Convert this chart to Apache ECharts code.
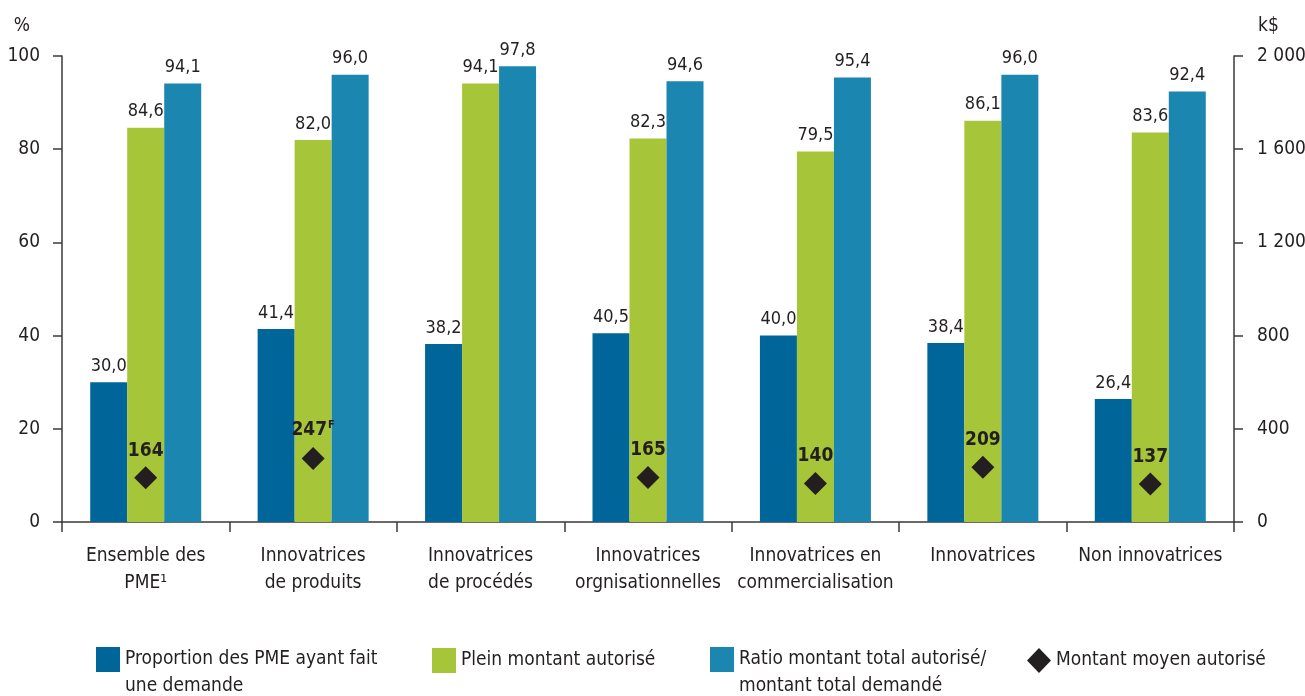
<!DOCTYPE html>
<html>
<head>
<meta charset="utf-8">
<script src="https://cdn.jsdelivr.net/npm/echarts@6/dist/echarts.min.js"></script>
<style>
  html, body { margin: 0; padding: 0; background: #fff; }
  #chartPme { width: 1305px; height: 696px; }
</style>
</head>
<body>
<div id="chartPme"></div>
<script>
var categories = ['Ensemble des\nPME¹', 'Innovatrices\nde produits', 'Innovatrices\nde procédés',
  'Innovatrices\norgnisationnelles', 'Innovatrices en\ncommercialisation', 'Innovatrices', 'Non innovatrices'];
var proportionDemande = [30.0, 41.4, 38.2, 40.5, 40.0, 38.4, 26.4];
var pleinMontant = [84.6, 82.0, 94.1, 82.3, 79.5, 86.1, 83.6];
var ratioMontant = [94.1, 96.0, 97.8, 94.6, 95.4, 96.0, 92.4];
var montantMoyen = [164, 247, null, 165, 140, 209, 137];
var montantNotes = ['', 'F', '', '', '', '', ''];
var pctTicks = [0, 20, 40, 60, 80, 100];
var kdTicks = [0, 400, 800, 1200, 1600, 2000];

var font = "'Liberation Sans Narrow', 'DejaVu Sans Condensed', sans-serif";
var txt = '#231f20';

function virgule(v) { return v.toFixed(1).replace('.', ','); }
function milliers(v) { return String(v).replace(/\B(?=(\d{3})+(?!\d))/g, ' '); }

var dom = document.getElementById('chartPme');
var myChart = echarts.init(dom);

var barLabel = {
  show: true, position: 'top', distance: 7,
  fontFamily: font, fontSize: 18, color: txt,
  formatter: function (p) { return virgule(p.value); }
};

var legendBase = {
  orient: 'horizontal', itemWidth: 24, itemHeight: 25, top: 647, padding: 0,
  selectedMode: false, icon: 'rect',
  textStyle: { fontFamily: font, fontSize: 19, color: txt, lineHeight: 27 }
};
// leading empty line so the first line of a two-line name sits beside the icon
function firstLineOnIcon(name) { return '\n' + name; }

var option = {
  animation: false,
  grid: { left: 62, right: 71, top: 56, bottom: 174, outerBoundsMode: 'none' },
  legend: [
    Object.assign({}, legendBase, { left: 96, top: 619, data: ['Proportion des PME ayant fait\nune demande'], formatter: firstLineOnIcon }),
    Object.assign({}, legendBase, { left: 432, data: ['Plein montant autorisé'] }),
    Object.assign({}, legendBase, { left: 710, top: 619, data: ['Ratio montant total autorisé/\nmontant total demandé'], formatter: firstLineOnIcon }),
    Object.assign({}, legendBase, { left: 1027, data: [{ name: 'Montant moyen autorisé', icon: 'diamond' }] })
  ],
  xAxis: {
    type: 'category',
    data: categories,
    axisLine: { lineStyle: { color: '#3a3a3a', width: 1.5 } },
    axisTick: { show: true, length: 10, lineStyle: { color: '#3a3a3a', width: 1.5 } },
    axisLabel: { fontFamily: font, fontSize: 19, color: txt, lineHeight: 27, margin: 21, interval: 0 }
  },
  yAxis: [
    {
      type: 'value', min: 0, max: 100, interval: 20, position: 'left',
      name: '%', nameLocation: 'end', nameGap: 20,
      nameTextStyle: { fontFamily: font, fontSize: 19, color: txt, align: 'right', padding: [0, 32, 0, 0] },
      axisLine: { show: true, lineStyle: { color: '#3a3a3a', width: 1.5 } },
      axisTick: { show: true, length: 9, lineStyle: { color: '#3a3a3a', width: 1.5 } },
      axisLabel: { fontFamily: font, fontSize: 19, color: txt, margin: 22,
        formatter: function (v) { return pctTicks.indexOf(v) >= 0 ? String(v) : ''; } },
      splitLine: { show: false }
    },
    {
      type: 'value', min: 0, max: 2000, interval: 400, position: 'right',
      name: 'k$', nameLocation: 'end', nameGap: 20,
      nameTextStyle: { fontFamily: font, fontSize: 19, color: txt, align: 'left', padding: [0, 0, 0, 24] },
      axisLine: { show: true, lineStyle: { color: '#3a3a3a', width: 1.5 } },
      axisTick: { show: true, length: 9, lineStyle: { color: '#3a3a3a', width: 1.5 } },
      axisLabel: { fontFamily: font, fontSize: 19, color: txt, margin: 23,
        formatter: function (v) { return kdTicks.indexOf(v) >= 0 ? milliers(v) : ''; } },
      splitLine: { show: false }
    }
  ],
  series: [
    {
      name: 'Proportion des PME ayant fait\nune demande', type: 'bar', data: proportionDemande,
      barWidth: 37, barGap: '0%', itemStyle: { color: '#006699' }, label: barLabel, z: 2
    },
    {
      name: 'Plein montant autorisé', type: 'bar', data: pleinMontant,
      barWidth: 37, barGap: '0%', itemStyle: { color: '#a7c539' }, label: barLabel, z: 2
    },
    {
      name: 'Ratio montant total autorisé/\nmontant total demandé', type: 'bar', data: ratioMontant,
      barWidth: 37, barGap: '0%', itemStyle: { color: '#1b86af' }, label: barLabel, z: 2
    },
    {
      name: 'Montant moyen autorisé', type: 'scatter', yAxisIndex: 1, data: montantMoyen,
      symbol: 'diamond', symbolSize: 23, symbolOffset: [0, -6],
      itemStyle: { color: '#231f20', opacity: 1 }, z: 5,
      label: {
        show: true, position: 'top', distance: 6,
        formatter: function (p) {
          var n = montantNotes[p.dataIndex];
          return '{v|' + p.value + '}' + (n ? '{s|' + n + '}' : '');
        },
        rich: {
          v: { fontFamily: font, fontSize: 19, fontWeight: 'bold', color: txt },
          s: { fontFamily: font, fontSize: 11, fontWeight: 'bold', color: txt, verticalAlign: 'top', padding: [0, 0, 10, 1] }
        }
      }
    }
  ]
};

if (option && typeof option === 'object') {
  myChart.setOption(option, true);
  window.addEventListener('resize', function () { myChart.resize(); });
}
</script>
</body>
</html>
